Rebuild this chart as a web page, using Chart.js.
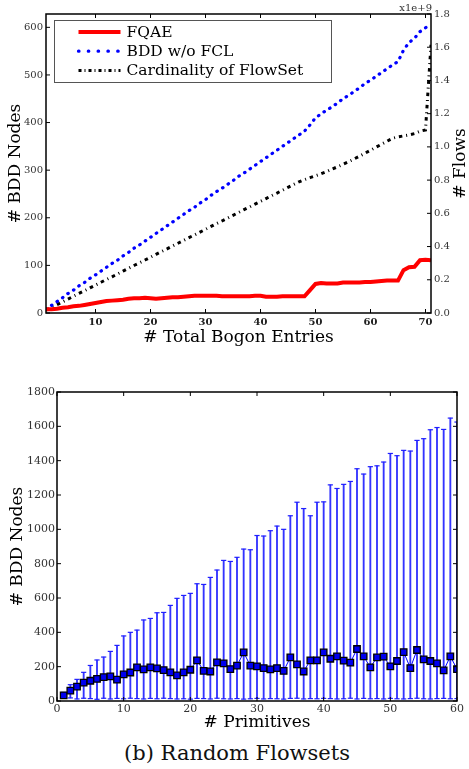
<!DOCTYPE html>
<html>
<head>
<meta charset="utf-8">
<script src="https://cdn.jsdelivr.net/npm/chart.js@4.4.1/dist/chart.umd.min.js"></script>
<style>
  body { margin: 0; background: #fff; }
  #wrap { position: relative; width: 469px; height: 769px; }
  #bogonChart { position: absolute; left: 0; top: 0; }
  #randomChart { position: absolute; left: 0; top: 370px; }
  #caption {
    position: absolute; left: 0; top: 740px; width: 469px; padding-left: 5px; box-sizing: border-box;
    text-align: center; font: 21px "DejaVu Serif", serif; line-height: 26px; color: #111;
  }
</style>
</head>
<body>
<div id="wrap">
  <canvas id="bogonChart" width="469" height="360"></canvas>
  <canvas id="randomChart" width="469" height="370"></canvas>
  <div id="caption">(b) Random Flowsets</div>
</div>
<script>
/* Top chart data: bogon entries */

const bogonEntries = [1,2,3,4,5,6,7,8,9,10,11,12,13,14,15,16,17,18,19,20,
  21,22,23,24,25,26,27,28,29,30,31,32,33,34,35,36,37,38,39,40,
  41,42,43,44,45,46,47,48,49,50,51,52,53,54,55,56,57,58,59,60,
  61,62,63,64,65,66,67,68,69,70,71];

const fqaeNodes = [8,8,9,11,12,14,15,17,19,21,23,25,26,27,28,30,31,31,32,31,
  30,31,32,33,33,34,35,36,36,36,36,36,35,35,35,35,35,35,36,36,
  34,34,34,35,35,35,35,35,48,61,63,62,62,62,64,64,64,64,65,65,
  66,67,68,68,68,90,96,97,111,112,111];

const bddNoFclNodes = [8,16,24,32,41,48,57,64,73,80,88,96,104,111,120,127,136,143,151,159,
  167,175,183,191,199,207,215,222,231,238,247,255,262,270,278,287,294,302,310,318,
  326,334,342,350,358,366,374,382,395,410,418,426,433,441,450,457,465,473,482,489,
  497,505,513,521,528,552,568,577,591,599,607];

// flows, in units of 1e9
const flowsE9 = [0.017,0.034,0.050,0.067,0.084,0.101,0.118,0.134,0.151,0.168,
  0.185,0.202,0.218,0.235,0.252,0.269,0.286,0.302,0.319,0.336,
  0.353,0.370,0.386,0.403,0.420,0.437,0.454,0.470,0.487,0.504,
  0.521,0.538,0.554,0.571,0.588,0.605,0.622,0.638,0.655,0.672,
  0.689,0.706,0.722,0.739,0.756,0.773,0.790,0.803,0.815,0.826,
  0.838,0.851,0.866,0.880,0.895,0.910,0.927,0.944,0.962,0.980,
  0.998,1.016,1.034,1.052,1.060,1.066,1.072,1.080,1.094,1.102,1.615];

const bogonTicks = [10, 20, 30, 40, 50, 60, 70];
const nodeTicks = [0, 100, 200, 300, 400, 500, 600];
const flowTicks = [0, 0.2, 0.4, 0.6, 0.8, 1.0, 1.2, 1.4, 1.6, 1.8];


/* Bottom chart data: random flowsets */

const primitives = [1,2,3,4,5,6,7,8,9,10,11,12,13,14,15,16,17,18,19,20,
  21,22,23,24,25,26,27,28,29,30,31,32,33,34,35,36,37,38,39,40,
  41,42,43,44,45,46,47,48,49,50,51,52,53,54,55,56,57,58,59,60];

const meanNodes = [33,60,84,107,118,129,139,143,124,155,166,196,184,196,190,180,167,149,167,182,
  237,176,172,225,219,186,206,283,206,202,192,184,192,175,254,213,172,237,237,283,
  246,260,235,223,303,260,196,254,258,202,233,285,192,297,242,233,219,178,260,186];

const maxNodes = [50,95,126,167,207,239,256,289,324,379,400,413,472,481,514,516,557,598,615,627,
  683,679,720,763,819,813,837,885,881,964,961,992,1019,1000,1079,1158,1121,1079,1158,1160,
  1259,1238,1262,1279,1353,1322,1365,1370,1392,1442,1429,1460,1456,1518,1528,1580,1593,1582,1648,1625];

const minNodes = [20,18,12,16,14,10,16,12,15,13,16,14,12,15,13,16,14,12,13,11,
  15,14,12,16,13,12,14,11,13,15,12,14,13,11,15,16,12,14,13,15,
  14,12,13,16,12,15,13,14,12,15,13,12,14,16,13,12,14,15,13,14];

const primitiveTicks = [0, 10, 20, 30, 40, 50, 60];
const randomNodeTicks = [0, 200, 400, 600, 800, 1000, 1200, 1400, 1600, 1800];


/* Helpers */

const serif = "'DejaVu Serif', serif";

const pairs = (xs, ys) => xs.map((x, i) => ({ x: x, y: ys[i] }));

const setTicks = list => axis => { axis.ticks = list.map(v => ({ value: v })); };

const plainLabel = v => String(v);

// frame round the plot + matplotlib style inward ticks
const frameTicks = {
    id: "frameTicks",
    afterDraw(chart, args, opts) {
        const { ctx, chartArea: a } = chart;
        ctx.save();
        ctx.strokeStyle = "#000";
        ctx.lineWidth = 1;
        (opts.marks || []).forEach(m => {
            const scale = chart.scales[m.scale];
            scale.ticks.forEach(t => {
                const p = scale.getPixelForValue(t.value);
                m.sides.forEach(side => {
                    ctx.beginPath();
                    if (side === "bottom") { ctx.moveTo(p, a.bottom); ctx.lineTo(p, a.bottom - 4); }
                    if (side === "top") { ctx.moveTo(p, a.top); ctx.lineTo(p, a.top + 4); }
                    if (side === "left") { ctx.moveTo(a.left, p); ctx.lineTo(a.left + 4, p); }
                    if (side === "right") { ctx.moveTo(a.right, p); ctx.lineTo(a.right - 4, p); }
                    ctx.stroke();
                });
            });
        });
        ctx.lineWidth = 1.5;
        ctx.strokeRect(a.left, a.top, a.width, a.height);
        ctx.restore();
    }
};

// legend box inside the top plot
const boxLegend = {
    id: "boxLegend",
    afterDraw(chart) {
        const { ctx, chartArea: a } = chart;
        const x0 = Math.round(a.left + 8) + 0.5;
        const y0 = Math.round(a.top + 6) + 0.5;
        ctx.save();
        ctx.fillStyle = "#fff";
        ctx.fillRect(x0, y0, 277, 62);
        ctx.strokeStyle = "#555";
        ctx.lineWidth = 1;
        ctx.strokeRect(x0, y0, 277, 62);
        chart.data.datasets.forEach((ds, i) => {
            const y = y0 + 11.5 + i * 19.2;
            ctx.beginPath();
            ctx.setLineDash(ds.legendDash || []);
            ctx.lineCap = ds.borderCapStyle || "butt";
            ctx.strokeStyle = ds.borderColor;
            ctx.lineWidth = ds.borderWidth;
            ctx.moveTo(x0 + 24, y);
            ctx.lineTo(x0 + 66, y);
            ctx.stroke();
            ctx.setLineDash([]);
            ctx.fillStyle = "#000";
            ctx.font = "15.5px " + serif;
            ctx.textBaseline = "middle";
            ctx.fillText(ds.label, x0 + 72, y + 1);
        });
        ctx.restore();
    }
};

// right axis title (reads bottom to top) and the 1e9 multiplier
const flowLabels = {
    id: "flowLabels",
    afterDraw(chart) {
        const { ctx, chartArea: a } = chart;
        ctx.save();
        ctx.fillStyle = "#333";
        ctx.font = "10px " + serif;
        ctx.textAlign = "right";
        ctx.textBaseline = "middle";
        ctx.fillText("x1e+9", a.right + 1, a.top - 6);
        ctx.translate(chart.width - 8, (a.top + a.bottom) / 2);
        ctx.rotate(-Math.PI / 2);
        ctx.fillStyle = "#000";
        ctx.font = "17px " + serif;
        ctx.textAlign = "center";
        ctx.fillText("# Flows", 0, 0);
        ctx.restore();
    }
};


/* Top chart */

const bogonChart = new Chart(document.getElementById("bogonChart"), {

    type: "line",

    data: {
        datasets: [{
            label: "FQAE",
            data: pairs(bogonEntries, fqaeNodes),
            yAxisID: "y",
            borderColor: "#ff0000",
            borderWidth: 4,
            pointRadius: 0
        }, {
            label: "BDD w/o FCL",
            data: pairs(bogonEntries, bddNoFclNodes),
            yAxisID: "y",
            borderColor: "#0000ff",
            borderWidth: 3.2,
            borderDash: [0.5, 6.2],
            borderCapStyle: "round",
            legendDash: [0.5, 9.3],
            pointRadius: 0
        }, {
            label: "Cardinality of FlowSet",
            data: pairs(bogonEntries, flowsE9),
            yAxisID: "y2",
            borderColor: "#000000",
            borderWidth: 3,
            borderDash: [3.5, 3.9, 1, 3.9],
            legendDash: [3, 3, 1, 3],
            pointRadius: 0
        }]
    },

    options: {
        responsive: false,
        animation: false,
        events: [],
        layout: { padding: { top: 14, left: 0, right: 0, bottom: 0 } },
        plugins: {
            legend: { display: false },
            tooltip: { enabled: false },
            frameTicks: {
                marks: [
                    { scale: "x", sides: ["bottom", "top"] },
                    { scale: "y", sides: ["left"] },
                    { scale: "y2", sides: ["right"] }
                ]
            }
        },
        scales: {
            x: {
                type: "linear",
                min: 1,
                max: 71,
                afterBuildTicks: setTicks(bogonTicks),
                afterFit: s => { s.height = 47; },
                grid: { display: false, drawTicks: false },
                border: { display: false },
                ticks: { font: { family: serif, size: 10, weight: "bold" }, color: "#222", padding: 3, maxRotation: 0, autoSkip: false, callback: plainLabel },
                title: { display: true, text: "# Total Bogon Entries", font: { family: serif, size: 17 }, color: "#000", padding: { top: 0, bottom: 12 } }
            },
            y: {
                position: "left",
                min: 0,
                max: 628,
                afterBuildTicks: setTicks(nodeTicks),
                afterFit: s => { s.width = 46; },
                grid: { display: false, drawTicks: false },
                border: { display: false },
                ticks: { font: { family: serif, size: 10 }, color: "#333", padding: 3, autoSkip: false, callback: plainLabel },
                title: { display: true, text: "# BDD Nodes", font: { family: serif, size: 17 }, color: "#000", padding: { top: 5, bottom: 0 } }
            },
            y2: {
                position: "right",
                min: 0,
                max: 1.8,
                afterBuildTicks: setTicks(flowTicks),
                afterFit: s => { s.width = 38; },
                grid: { display: false, drawTicks: false },
                border: { display: false },
                ticks: { font: { family: serif, size: 10 }, color: "#333", padding: 3, autoSkip: false, callback: v => v.toFixed(1) }
            }
        }
    },

    plugins: [boxLegend, flowLabels, frameTicks]

});


/* Bottom chart */

const randomChart = new Chart(document.getElementById("randomChart"), {

    type: "line",

    data: {
        datasets: [{
            label: "mean",
            data: pairs(primitives, meanNodes),
            borderColor: "#0000ff",
            borderWidth: 1,
            pointStyle: "rect",
            pointRadius: 4.6,
            pointBackgroundColor: "#0000ee",
            pointBorderColor: "#000",
            pointBorderWidth: 1.3,
            order: 0
        }, {
            label: "max",
            data: pairs(primitives, maxNodes),
            showLine: false,
            pointStyle: "line",
            pointRadius: 2.6,
            pointBorderColor: "#2020ff",
            pointBorderWidth: 1.2,
            order: 1
        }, {
            label: "min",
            data: pairs(primitives, minNodes),
            showLine: false,
            pointStyle: "line",
            pointRadius: 2.6,
            pointBorderColor: "#2020ff",
            pointBorderWidth: 1.2,
            order: 1
        }, {
            type: "bar",
            label: "range",
            data: primitives.map((p, i) => ({ x: p, y: [minNodes[i], maxNodes[i]] })),
            backgroundColor: "rgba(0,0,255,0.8)",
            barThickness: 1.2,
            order: 2
        }]
    },

    options: {
        responsive: false,
        animation: false,
        events: [],
        layout: { padding: { top: 22, left: 0, right: 12, bottom: 0 } },
        plugins: {
            legend: { display: false },
            tooltip: { enabled: false },
            frameTicks: {
                marks: [
                    { scale: "x", sides: ["bottom", "top"] },
                    { scale: "y", sides: ["left", "right"] }
                ]
            }
        },
        scales: {
            x: {
                type: "linear",
                offset: false,
                min: 0,
                max: 60,
                afterBuildTicks: setTicks(primitiveTicks),
                afterFit: s => { s.height = 39; },
                grid: { display: false, drawTicks: false, offset: false },
                border: { display: false },
                ticks: { font: { family: serif, size: 11 }, color: "#333", padding: 2, maxRotation: 0, autoSkip: false, callback: plainLabel },
                title: { display: true, text: "# Primitives", font: { family: serif, size: 17 }, color: "#000", padding: { top: 0, bottom: 7 } }
            },
            y: {
                type: "linear",
                min: 0,
                max: 1800,
                afterBuildTicks: setTicks(randomNodeTicks),
                afterFit: s => { s.width = 57; },
                grid: { display: false, drawTicks: false },
                border: { display: false },
                ticks: { font: { family: serif, size: 11 }, color: "#333", padding: 2, autoSkip: false, callback: plainLabel },
                title: { display: true, text: "# BDD Nodes", font: { family: serif, size: 17 }, color: "#000", padding: { top: 7, bottom: 0 } }
            }
        }
    },

    plugins: [frameTicks]

});
</script>
</body>
</html>
